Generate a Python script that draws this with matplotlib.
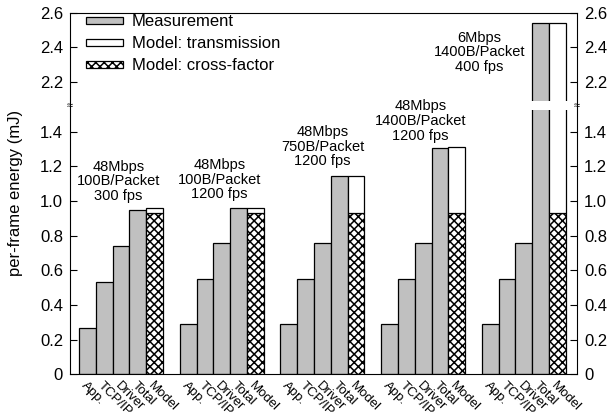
import numpy as np
import matplotlib
matplotlib.use("Agg")
import matplotlib.pyplot as plt
from matplotlib.patches import Rectangle

plt.rcParams['font.family'] = ['Liberation Sans', 'DejaVu Sans']
plt.rcParams['hatch.linewidth'] = 1.1

# per-frame energy (mJ) for each configuration
components = ["App.", "TCP/IP", "Driver", "Total", "Model"]
configs = ["48Mbps\n100B/Packet\n300 fps",
           "48Mbps\n100B/Packet\n1200 fps",
           "48Mbps\n750B/Packet\n1200 fps",
           "48Mbps\n1400B/Packet\n1200 fps",
           "6Mbps\n1400B/Packet\n400 fps"]
app = [0.27, 0.29, 0.29, 0.29, 0.29]
tcpip = [0.535, 0.548, 0.548, 0.548, 0.548]
driver = [0.742, 0.756, 0.756, 0.755, 0.755]
total = [0.946, 0.960, 1.142, 1.304, 2.54]
model_cross = [0.931, 0.931, 0.931, 0.931, 0.931]
model_total = [0.958, 0.958, 1.142, 1.313, 2.54]
model_trans = [t - c for t, c in zip(model_total, model_cross)]

# where the config labels sit (x, y of the middle line)
label_x = [1.85, 7.85, 14.0, 19.85, 23.35]
label_y = [1.113, 1.123, 1.313, 1.462, 2.37]

# broken y axis: skip the range between LO and HI
LO, HI = 1.551, 2.063


def fwd(y):
    y = np.asarray(y, dtype=float)
    return np.where(y <= LO, y, np.where(y >= HI, y - (HI - LO), LO))


def inv(t):
    t = np.asarray(t, dtype=float)
    return np.where(t <= LO, t, t + (HI - LO))


fig = plt.figure(figsize=(6.13, 4.17), dpi=100)
ax = fig.add_axes([0.1142, 0.1024, 0.8271, 0.8676])
ax.set_yscale('function', functions=(fwd, inv))

gray = '#c0c0c0'
n = len(configs)
base = np.arange(n) * 6
meas = [app, tcpip, driver, total]
for i, vals in enumerate(meas):
    b = ax.bar(base + i, vals, width=1.0, color=gray, edgecolor='black', linewidth=0.9)
    if i == 0:
        h_meas = b
h_cross = ax.bar(base + 4, model_cross, width=1.0, color='white', edgecolor='black',
                 linewidth=0.9, hatch='xxxx')
h_trans = ax.bar(base + 4, model_trans, bottom=model_cross, width=1.0, color='white',
                 edgecolor='black', linewidth=0.9)

for x, y, s in zip(label_x, label_y, configs):
    ax.text(x, y, s, ha='center', va='center', fontsize=10.5, linespacing=1.05)

ax.set_xlim(-1.04, 29.17)
ax.set_ylim(0, 2.6)

yt = [0, 0.2, 0.4, 0.6, 0.8, 1.0, 1.2, 1.4, 2.2, 2.4, 2.6]
ax.set_yticks(yt, ['0'] + ['%.1f' % v for v in yt[1:]])
ax.minorticks_off()
ax.tick_params(axis='y', direction='in', length=5, width=0.8, pad=5,
               labelsize=12, right=True, labelright=True)

xpos = [g * 6 + i for g in range(n) for i in range(len(components))]
ax.set_xticks(xpos, components * n, rotation=-45, ha='left', va='top',
              rotation_mode='anchor', fontsize=9.5)
ax.tick_params(axis='x', length=0, pad=4)

for sp in ax.spines.values():
    sp.set_linewidth(0.8)

# gap through the bars at the break, with break marks on both spines
yb = fwd(LO) / fwd(2.6)
ax.add_patch(Rectangle((0, yb - 0.013), 1, 0.026, transform=ax.transAxes,
                       facecolor='white', edgecolor='none', zorder=2))
for xs in (0, 1):
    ax.text(xs, yb, '≈', transform=ax.transAxes, ha='center', va='center',
            fontsize=8, zorder=3, clip_on=False)

ax.set_ylabel('per-frame energy (mJ)', fontsize=12)
ax.yaxis.set_label_coords(-0.093, 0.5)

ax.legend([h_meas, h_trans, h_cross],
          ['Measurement', 'Model: transmission', 'Model: cross-factor'],
          loc='upper left', bbox_to_anchor=(0.031, 0.995), frameon=False,
          fontsize=12, handlelength=2.25, handleheight=0.28, handletextpad=0.5,
          labelspacing=0.42, borderpad=0, borderaxespad=0)

fig.savefig('out.png', dpi=100)
